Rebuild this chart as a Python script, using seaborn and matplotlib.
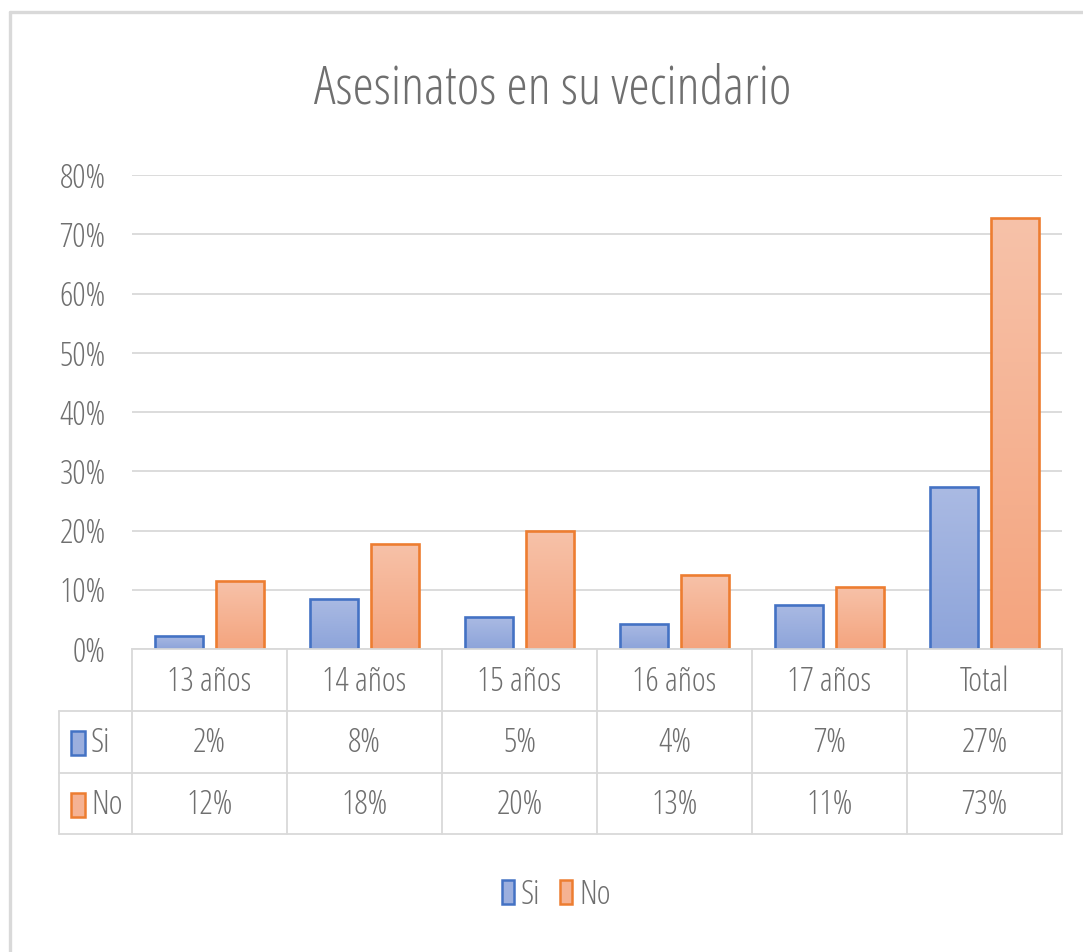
import numpy as np
import pandas as pd
import matplotlib
matplotlib.use("Agg")
import matplotlib.pyplot as plt
import seaborn as sns
from matplotlib.patches import Rectangle, Patch
from matplotlib.lines import Line2D
from matplotlib.transforms import blended_transform_factory
from matplotlib.colors import LinearSegmentedColormap

# ---------------- data ----------------
title = "Asesinatos en su vecindario"
categories = ["13 años", "14 años", "15 años", "16 años", "17 años", "Total"]
series_names = ["Si", "No"]
si_values = [0.022, 0.085, 0.054, 0.043, 0.075, 0.273]
no_values = [0.114, 0.178, 0.199, 0.125, 0.105, 0.727]
si_labels = ["2%", "8%", "5%", "4%", "7%", "27%"]
no_labels = ["12%", "18%", "20%", "13%", "11%", "73%"]
y_ticks = [0.0, 0.1, 0.2, 0.3, 0.4, 0.5, 0.6, 0.7, 0.8]
y_tick_labels = ["0%", "10%", "20%", "30%", "40%", "50%", "60%", "70%", "80%"]

# ---------------- style ----------------
sns.set_theme(style="white")
plt.rcParams['font.family'] = ['Open Sans', 'DejaVu Sans']
plt.rcParams['font.stretch'] = 'condensed'
plt.rcParams['font.weight'] = 'light'
TXT = "#6F6F6F"
GRID = "#D9D9D9"
FS = 24
edge_colors = {"Si": "#4472C4", "No": "#ED7D31"}
grad_colors = {"Si": ("#8DA4DA", "#AABAE3"), "No": ("#F4A47E", "#F7C2A9")}  # (bottom, top)
mid_colors = {"Si": "#9CAFDE", "No": "#F5B293"}

W, H = 1083, 952
fig = plt.figure(figsize=(W / 100, H / 100), dpi=100)
fig.patch.set_facecolor("white")


def fx(px):
    return px / W


def fy(py):
    return 1 - py / H


AX_L, AX_R, AX_T, AX_B = 132, 1062, 175, 649
ax = fig.add_axes([fx(AX_L), fy(AX_B), fx(AX_R) - fx(AX_L), fy(AX_T) - fy(AX_B)])

df = pd.DataFrame({
    "Categoria": categories * 2,
    "Serie": [series_names[0]] * len(categories) + [series_names[1]] * len(categories),
    "Valor": si_values + no_values,
})

sns.barplot(data=df, x="Categoria", y="Valor", hue="Serie", order=categories,
            hue_order=series_names, palette=edge_colors, width=0.775, gap=0.2,
            saturation=1, legend=False, ax=ax, zorder=2)

# gradient fill per bar
grad = np.linspace(0, 1, 256).reshape(-1, 1)
for cont, s in zip(ax.containers, series_names):
    cmap = LinearSegmentedColormap.from_list(s, list(grad_colors[s]))
    for p in cont.patches:
        x0, w, h = p.get_x(), p.get_width(), p.get_height()
        im = ax.imshow(grad, extent=[x0, x0 + w, 0, h], origin="lower",
                       aspect="auto", cmap=cmap, zorder=1.5, interpolation="bilinear")
        im.set_clip_path(p)
        p.set_facecolor("none")
        p.set_edgecolor(edge_colors[s])
        p.set_linewidth(1.9)
        p.set_zorder(2)

ax.set_aspect("auto")
ax.set_xlim(-0.5, len(categories) - 0.5)
ax.set_ylim(0, 0.8)

# axes styling
ax.set_axisbelow(True)
ax.yaxis.grid(True, color=GRID, linewidth=1.3)
ax.xaxis.grid(False)
for sp in ["top", "right", "left"]:
    ax.spines[sp].set_visible(False)
ax.spines["bottom"].set_color(GRID)
ax.spines["bottom"].set_linewidth(1.3)
ax.set_yticks(y_ticks)
ax.set_yticklabels(y_tick_labels)
ax.set_xticks(range(len(categories)))
ax.set_xticklabels(categories)
ax.tick_params(axis="y", length=0, pad=19, labelsize=FS, labelcolor=TXT)
ax.tick_params(axis="x", length=0, pad=24, labelsize=FS, labelcolor=TXT)
for lbl in ax.get_xticklabels():
    lbl.set_va("center")
ax.set_xlabel("")
ax.set_ylabel("")

# ---------------- data table ----------------
axh = AX_B - AX_T
axw = AX_R - AX_L


def ay(py):
    return (AX_B - py) / axh


def axx(px):
    return (px - AX_L) / axw


row_lines = [711, 773, 834]
row_centers = [743, 805]
left_px = 59
bt = blended_transform_factory(ax.transData, ax.transAxes)
for py in row_lines:
    ax.add_line(Line2D([axx(left_px), 1.0], [ay(py), ay(py)], transform=ax.transAxes,
                       color=GRID, lw=1.3, clip_on=False))
for k in range(len(categories) + 1):
    xk = k - 0.5
    ax.add_line(Line2D([xk, xk], [0, ay(row_lines[-1])], transform=bt,
                       color=GRID, lw=1.3, clip_on=False))
ax.add_line(Line2D([axx(left_px), axx(left_px)], [ay(row_lines[0]), ay(row_lines[-1])],
                   transform=ax.transAxes, color=GRID, lw=1.3, clip_on=False))

for labels, yc in zip([si_labels, no_labels], row_centers):
    for i, t in enumerate(labels):
        ax.text(i, ay(yc), t, transform=bt, ha="center", va="center",
                fontsize=FS, color=TXT, clip_on=False)

for s, yc in zip(series_names, row_centers):
    fig.add_artist(Rectangle((fx(71), fy(yc + 12)), fx(14), 24 / H, transform=fig.transFigure,
                             facecolor=mid_colors[s], edgecolor=edge_colors[s], lw=1.8))
    fig.text(fx(91), fy(yc), s, ha="left", va="center", fontsize=FS, color=TXT)

# ---------------- legend ----------------
handles = [Patch(facecolor=mid_colors[s], edgecolor=edge_colors[s], lw=1.8) for s in series_names]
fig.legend(handles, series_names, loc="center", bbox_to_anchor=(fx(556), fy(895)),
           ncol=2, frameon=False, fontsize=FS, labelcolor=TXT,
           handlelength=0.37, handleheight=0.75, handletextpad=0.2, columnspacing=0.6)

# ---------------- title ----------------
fig.text(fx(553), fy(104), title, ha="center", va="baseline", fontsize=39, color=TXT)

# ---------------- outer frame (top/left visible) ----------------
fig.add_artist(Line2D([fx(10), 1.0], [fy(12), fy(12)], transform=fig.transFigure,
                      color=GRID, lw=2.4))
fig.add_artist(Line2D([fx(10), fx(10)], [fy(12), 0.0], transform=fig.transFigure,
                      color=GRID, lw=2.4))

fig.savefig("out.png", dpi=100, facecolor="white")
